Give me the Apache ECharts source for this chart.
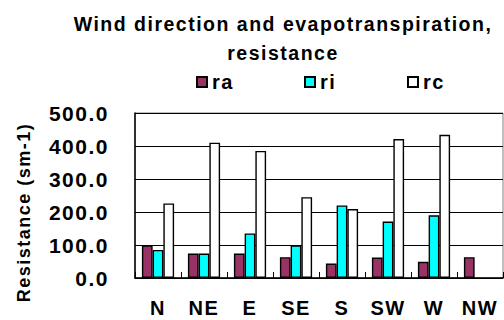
<!DOCTYPE html>
<html>
<head>
<meta charset="utf-8">
<script src="https://cdn.jsdelivr.net/npm/echarts@6/dist/echarts.min.js"></script>
<style>
html, body { margin: 0; padding: 0; background: #fff; }
#chart { width: 504px; height: 320px; }
#chart text { letter-spacing: 1.5px; }
</style>
</head>
<body>
<div id="chart"></div>
<script>
var categories = ['N', 'NE', 'E', 'SE', 'S', 'SW', 'W', 'NW'];
var raValues = [99, 74, 74, 63, 44, 62, 49, 63];
var riValues = [85, 74, 135, 99, 220, 171, 190, null];
var rcValues = [226, 410, 385, 245, 209, 421, 434, null];
var yTicks = [0, 100, 200, 300, 400, 500];

var FONT = '"Liberation Sans", Arial, sans-serif';
var chart = echarts.init(document.getElementById('chart'), null, { renderer: 'svg' });

function legendAt(name, x) {
  return {
    data: [{ name: name, icon: 'rect' }], left: x, top: 72, itemWidth: 10, itemHeight: 10, itemGap: 0,
    padding: 0,
    textStyle: { fontFamily: FONT, fontWeight: 'bold', fontSize: 20, color: '#000' }
  };
}

chart.setOption({
  backgroundColor: '#fff',
  animation: false,
  title: {
    text: 'Wind direction and evapotranspiration,\nresistance',
    left: 278, top: 4, textAlign: 'center',
    textStyle: { fontFamily: FONT, fontWeight: 'bold', fontSize: 19.5, lineHeight: 29, color: '#000' }
  },
  legend: [legendAt('ra', 196), legendAt('ri', 304), legendAt('rc', 407)],
  grid: {
    left: 135, right: 1, top: 113, bottom: 42,
    show: true, borderColor: '#808080', borderWidth: 1, backgroundColor: 'transparent'
  },
  xAxis: {
    type: 'category', data: categories,
    axisLine: { lineStyle: { color: '#000', width: 1.5 } },
    axisTick: { show: true, inside: true, length: 6, interval: 0, lineStyle: { color: '#000' } },
    axisLabel: { interval: 0, margin: 20, fontFamily: FONT, fontWeight: 'bold', fontSize: 20, color: '#000' },
    splitLine: { show: false }
  },
  yAxis: {
    type: 'value', min: yTicks[0], max: yTicks[yTicks.length - 1], interval: 100,
    name: 'Resistance (sm-1)', nameLocation: 'middle', nameGap: 102, nameRotate: 90,
    nameTextStyle: { fontFamily: FONT, fontWeight: 'bold', fontSize: 18, color: '#000', padding: [0, 34, 0, 0] },
    axisLine: { show: true, lineStyle: { color: '#000', width: 1.5 } },
    axisTick: { show: true, inside: true, length: 5, lineStyle: { color: '#000' } },
    axisLabel: {
      margin: 26, fontFamily: FONT, fontWeight: 'bold', fontSize: 21, color: '#000',
      formatter: function (v) { return v.toFixed(1); }
    },
    splitLine: { show: true, lineStyle: { color: '#000', width: 1 } }
  },
  series: [
    { name: 'ra', type: 'bar', data: raValues, barGap: '0%', barCategoryGap: '30%',
      itemStyle: { color: '#993366', borderColor: '#000', borderWidth: 1.4 } },
    { name: 'ri', type: 'bar', data: riValues,
      itemStyle: { color: '#00FFFF', borderColor: '#000', borderWidth: 1.4 } },
    { name: 'rc', type: 'bar', data: rcValues,
      itemStyle: { color: '#FFFFFF', borderColor: '#000', borderWidth: 1.4 } }
  ]
});
</script>
</body>
</html>
